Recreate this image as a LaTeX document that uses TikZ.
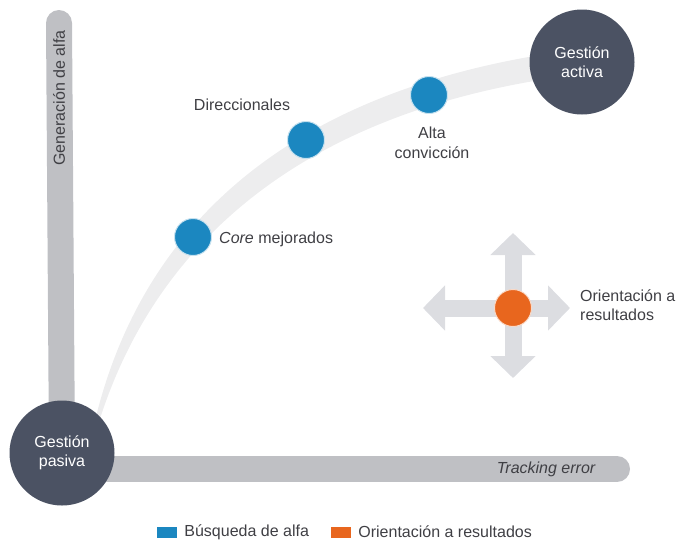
\documentclass[tikz,border=0pt]{standalone}
\usepackage{fontspec}
\setmainfont{Liberation Sans}
\usetikzlibrary{positioning}
\usetikzlibrary{arrows.meta}
\usetikzlibrary{backgrounds}
\usepackage{xcolor}

\definecolor{slate}{HTML}{4B5263}
\definecolor{bargray}{HTML}{BFC0C4}
\definecolor{curvegray}{HTML}{EDEDEE}
\definecolor{crossgray}{HTML}{DCDDE1}
\definecolor{alfablue}{HTML}{1B87C0}
\definecolor{resorange}{HTML}{E8661E}
\definecolor{labelgray}{HTML}{3F3F44}

\tikzset{
  txt/.style={font=\fontsize{16}{19.5}\selectfont, text=labelgray, inner sep=0pt},
  bigcircle/.style={circle, fill=slate, minimum size=105pt, inner sep=0pt, align=center,
    font=\fontsize{16}{19.5}\selectfont, text=white},
  dot/.style={circle, minimum size=37pt, inner sep=0pt, draw=#1!25, line width=1pt, fill=#1},
  bar/.style={draw=bargray, line width=26pt},
  crossarrow/.style={draw=crossgray, line width=17pt, -{Triangle[length=22pt,width=44pt]}},
  legendbox/.style={minimum width=20pt, minimum height=11pt, inner sep=0pt}
}

\begin{document}
\begin{tikzpicture}[x=1pt,y=-1pt]
    \useasboundingbox (0,0) rectangle (676,542);

    % end points of the two axes
    \node[bigcircle] (pasiva) at (62,453) {Gesti\'on\\pasiva};
    \node[bigcircle] (activa) at (582,62) {Gesti\'on\\activa};
    \coordinate (alfatop) at (59,23);
    \coordinate (tetop) at (617,469);

    % strategies along the curve
    \node[dot=alfablue] (core) at (193,237) {};
    \node[dot=alfablue] (direc) at (306,140) {};
    \node[dot=alfablue] (alta) at (429,95) {};
    \node[dot=resorange] (orient) at (513,308) {};

    \node[txt, anchor=west] (corelbl) at (219,239) {\textit{Core} mejorados};
    \node[txt] (direclbl) at (242,105) {Direccionales};
    \node[txt, align=center] (altalbl) at (432,143) {Alta\\convicci\'on};
    \node[txt, align=left, anchor=west] (orientlbl) at (580,305) {Orientaci\'on a\\resultados};

    % free ends of the cross
    \coordinate (up) at (513,233);
    \coordinate (down) at (513,378);
    \coordinate (left) at (423,308);
    \coordinate (right) at (570,308);

    \begin{scope}[on background layer]
        \draw[bar, line cap=round] (pasiva.center) -- (alfatop);
        \draw[bar, line cap=round] (pasiva.center |- tetop) -- (tetop);
        % tapered band from passive to active
        \fill[curvegray] (94,425) .. controls (137,240) and (270,100) .. (540,55)
            -- (540,80) .. controls (285,122) and (150,256) .. (98,425) -- cycle;
        \foreach \tip in {up,down,left,right}
            \draw[crossarrow] (orient.center) -- (\tip);
    \end{scope}

    \node[txt, rotate=90] (alfalbl) at (59,98) {Generaci\'on de alfa};
    \node[txt, anchor=east] (telbl) at (596,469) {\textit{Tracking error}};

    % legend
    \node[legendbox, fill=alfablue] (leg1) at (167,532) {};
    \node[txt, anchor=west, right=7pt of leg1] {B\'usqueda de alfa};
    \node[legendbox, fill=resorange] (leg2) at (341,532) {};
    \node[txt, anchor=west, right=7pt of leg2] {Orientaci\'on a resultados};
\end{tikzpicture}
\end{document}
